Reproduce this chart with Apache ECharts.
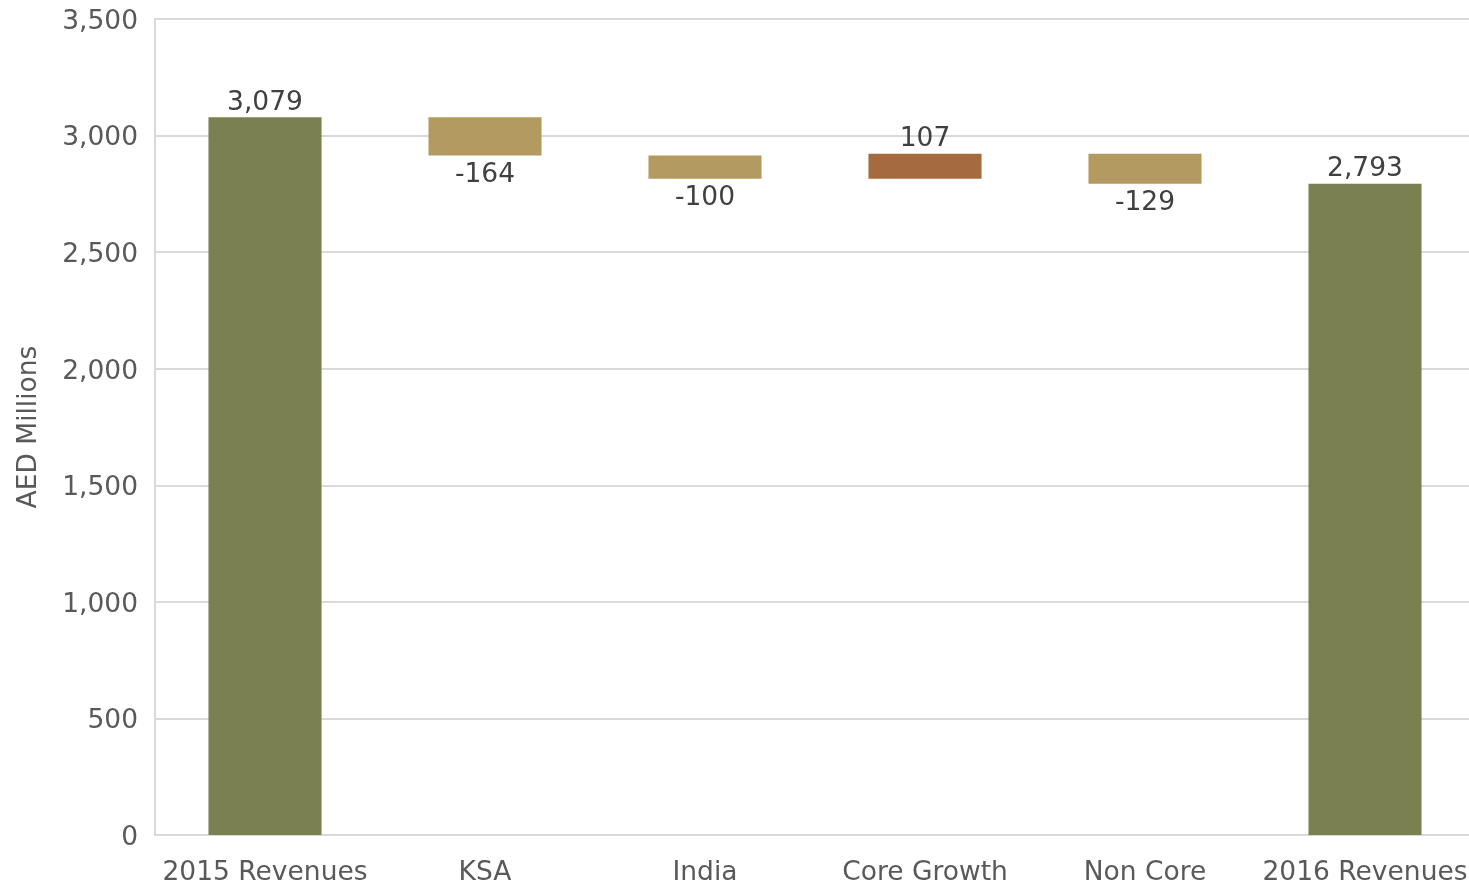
<!DOCTYPE html>
<html><head><meta charset="utf-8">
<script src="https://cdn.jsdelivr.net/npm/echarts@6/dist/echarts.min.js"></script>
<style>html,body{margin:0;padding:0;background:#fff}#c{width:1469px;height:886px}</style>
</head><body><div id="c"></div>
<script>
const categories = ['2015 Revenues','KSA','India','Core Growth','Non Core','2016 Revenues'];
const values = [3079, -164, -100, 107, -129, 2793];
const kinds = ['total','delta','delta','delta','delta','total'];
const yTicks = [0,500,1000,1500,2000,2500,3000,3500];

const colTotal = '#7A8050', colNeg = '#B39A60', colPos = '#A56A3E';
const base = [], visible = [];
let running = 0;
values.forEach((v,i)=>{
  if (kinds[i]==='total'){ base.push(0); visible.push({value:v, raw:v, itemStyle:{color:colTotal}}); running = v; }
  else if (v<0){ base.push(running+v); visible.push({value:-v, raw:v, itemStyle:{color:colNeg}, label:{position:'bottom', distance:6}}); running += v; }
  else { base.push(running); visible.push({value:v, raw:v, itemStyle:{color:colPos}}); running += v; }
});
const fmt = n => n.toLocaleString('en-US');
const FS = 26.5;
const chart = echarts.init(document.getElementById('c'));
chart.setOption({
  animation:false,
  textStyle:{fontFamily:'DejaVu Sans'},
  grid:{left:155, right:-6, top:19, bottom:51, containLabel:false, outerBoundsMode:'none'},
  xAxis:{type:'category', data:categories,
    axisLine:{lineStyle:{color:'#d9d9d9', width:2}}, axisTick:{show:false},
    axisLabel:{color:'#595959', fontSize:FS, margin:25, interval:0, fontFamily:'DejaVu Sans'}},
  yAxis:{type:'value', min:0, max:3500, interval:500,
    name:'AED Millions', nameLocation:'middle', nameGap:112, nameRotate:90,
    nameTextStyle:{color:'#595959', fontSize:FS, fontFamily:'DejaVu Sans'},
    axisLine:{show:true, lineStyle:{color:'#d9d9d9', width:2}}, axisTick:{show:false},
    splitLine:{lineStyle:{color:'#d9d9d9', width:2}},
    axisLabel:{color:'#595959', fontSize:FS, margin:17, fontFamily:'DejaVu Sans',
      formatter:v=> yTicks.includes(v) ? '{t|' + fmt(v) + '}' : '',
      rich:{t:{color:'#595959', fontSize:FS, fontFamily:'DejaVu Sans', padding:[6,0,0,0]}}}},
  series:[
    {type:'bar', stack:'w', data:base, itemStyle:{color:'transparent'}, barWidth:'51.4%', silent:true},
    {type:'bar', stack:'w', data:visible, barWidth:'51.4%',
      label:{show:true, position:'top', color:'#404040', fontSize:FS, distance:1, fontFamily:'DejaVu Sans',
        formatter:p=>fmt(p.data.raw)}}
  ]
});
</script></body></html>
